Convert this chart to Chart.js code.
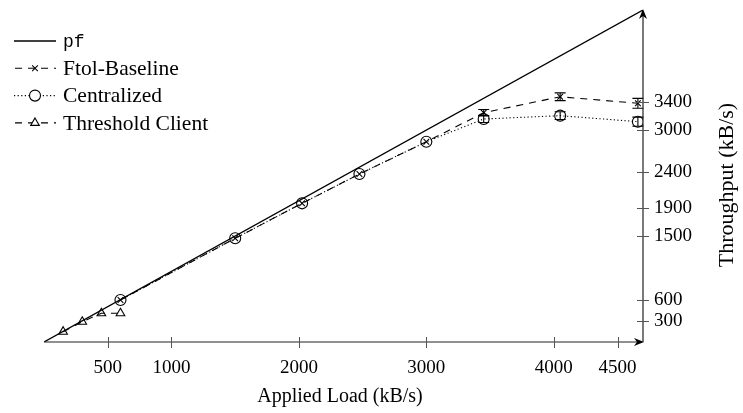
<!DOCTYPE html>
<html>
<head>
<meta charset="utf-8">
<script src="https://cdn.jsdelivr.net/npm/chart.js@4.4.0/dist/chart.umd.min.js"></script>
<style>
  html, body { margin: 0; padding: 0; background: #fff; }
  #wrap { width: 743px; height: 413px; }
</style>
</head>
<body>
<div id="wrap"><canvas id="myChart" width="743" height="413"></canvas></div>
<script>
// applied load (kB/s) on x, throughput (kB/s) on y
let pfX = [0, 4700]
let pfY = [0, 4700]

let loadX = [600, 1500, 2025, 2475, 3000, 3450, 4050, 4660]
let ftol = [595, 1468, 1963, 2378, 2835, 3246, 3472, 3379]
let ftolErr = [0, 0, 0, 0, 0, 45, 55, 70]
let central = [595, 1468, 1963, 2378, 2835, 3157, 3204, 3119]
let centralErr = [0, 0, 0, 0, 0, 50, 55, 65]

let threshX = [150, 300, 450, 600]
let thresh = [146, 287, 406, 406]

let xTicks = [500, 1000, 2000, 3000, 4000, 4500]
let yTicks = [300, 600, 1500, 1900, 2400, 3000, 3400]
let axisMax = 4700

const serif = '"Liberation Serif", "Times New Roman", serif'

function pts(xs, ys) {
    return xs.map((x, i) => ({x: x, y: ys[i]}))
}

// axes with arrows, crossing tick marks, error bars, legend and titles
const decor = {
    id: 'decor',
    afterDatasetsDraw(chart) {
        let ctx = chart.ctx
        let xs = chart.scales.x, ys = chart.scales.y
        ctx.save()
        ctx.strokeStyle = '#000'
        ctx.lineWidth = 1.1
        chart.data.datasets.forEach(ds => {
            if (!ds.errors) return
            ds.data.forEach((p, i) => {
                let e = ds.errors[i]
                if (!e) return
                let px = xs.getPixelForValue(p.x)
                let top = ys.getPixelForValue(p.y + e)
                let bot = ys.getPixelForValue(p.y - e)
                ctx.beginPath()
                ctx.moveTo(px, top); ctx.lineTo(px, bot)
                ctx.moveTo(px - 5.5, top); ctx.lineTo(px + 5.5, top)
                ctx.moveTo(px - 5.5, bot); ctx.lineTo(px + 5.5, bot)
                ctx.stroke()
            })
        })
        ctx.restore()
    },
    afterDraw(chart) {
        let ctx = chart.ctx
        let a = chart.chartArea
        let xs = chart.scales.x, ys = chart.scales.y
        ctx.save()
        ctx.strokeStyle = '#222'
        ctx.fillStyle = '#000'
        ctx.lineWidth = 1.2
        ctx.setLineDash([])

        // x axis
        ctx.beginPath()
        ctx.moveTo(a.left, a.bottom); ctx.lineTo(a.right - 2, a.bottom)
        ctx.stroke()
        ctx.beginPath()
        ctx.moveTo(a.right + 1, a.bottom)
        ctx.lineTo(a.right - 9, a.bottom - 4)
        ctx.lineTo(a.right - 6, a.bottom)
        ctx.lineTo(a.right - 9, a.bottom + 4)
        ctx.closePath(); ctx.fill()
        // y axis on the right
        ctx.beginPath()
        ctx.moveTo(a.right, a.bottom); ctx.lineTo(a.right, a.top + 2)
        ctx.stroke()
        ctx.beginPath()
        ctx.moveTo(a.right, a.top - 1)
        ctx.lineTo(a.right - 4, a.top + 9)
        ctx.lineTo(a.right, a.top + 6)
        ctx.lineTo(a.right + 4, a.top + 9)
        ctx.closePath(); ctx.fill()

        ctx.strokeStyle = '#555'
        ctx.lineWidth = 1
        ctx.beginPath()
        xTicks.forEach(v => {
            let px = Math.round(xs.getPixelForValue(v)) + 0.5
            ctx.moveTo(px, a.bottom - 5); ctx.lineTo(px, a.bottom + 6)
        })
        yTicks.forEach(v => {
            let py = Math.round(ys.getPixelForValue(v)) + 0.5
            ctx.moveTo(a.right - 6, py); ctx.lineTo(a.right + 6, py)
        })
        ctx.stroke()

        // axis titles
        ctx.fillStyle = '#000'
        ctx.font = '20px ' + serif
        ctx.textAlign = 'center'
        ctx.textBaseline = 'middle'
        ctx.fillText('Applied Load (kB/s)', 340, 397)
        ctx.save()
        ctx.translate(727, 185)
        ctx.rotate(-Math.PI / 2)
        ctx.font = '22px ' + serif
        ctx.fillText('Throughput (kB/s)', 0, 0)
        ctx.restore()

        // legend
        let rowY = 41
        chart.data.datasets.forEach(ds => {
            ctx.strokeStyle = ds.borderColor
            ctx.lineWidth = ds.borderWidth
            ctx.setLineDash(ds.borderDash || [])
            ctx.lineDashOffset = ds.borderDash && ds.borderDash[0] > 3 ? -1 : 0
            ctx.beginPath()
            ctx.moveTo(14, rowY); ctx.lineTo(56, rowY)
            ctx.stroke()
            ctx.setLineDash([])
            if (ds.pointRadius > 0) {
                ctx.fillStyle = '#fff'
                ctx.strokeStyle = ds.pointBorderColor
                ctx.lineWidth = ds.pointBorderWidth
                Chart.helpers.drawPoint(ctx, {pointStyle: ds.pointStyle, radius: ds.pointRadius, borderWidth: ds.pointBorderWidth, rotation: 0}, 35, rowY)
            }
            ctx.fillStyle = '#000'
            ctx.textAlign = 'left'
            ctx.font = ds.label === 'pf' ? '18px "Liberation Mono", monospace' : '21.5px ' + serif
            ctx.fillText(ds.label, 63, rowY + 1)
            rowY += 27.3
        })
        ctx.restore()
    }
}

var chart = new Chart('myChart', {
    type: 'line',
    data: {
        datasets: [
            {
                label: 'pf',
                data: pts(pfX, pfY),
                borderColor: '#000',
                borderWidth: 1.3,
                pointRadius: 0
            },
            {
                label: 'Ftol-Baseline',
                data: pts(loadX, ftol),
                errors: ftolErr,
                borderColor: '#000',
                borderWidth: 1.1,
                borderDash: [7, 6],
                pointStyle: 'crossRot',
                pointRadius: 4,
                pointBorderWidth: 1.1,
                pointBorderColor: '#000',
                pointBackgroundColor: 'rgba(0,0,0,0)'
            },
            {
                label: 'Centralized',
                data: pts(loadX, central),
                errors: centralErr,
                borderColor: '#000',
                borderWidth: 1.1,
                borderDash: [1.2, 2.4],
                pointStyle: 'circle',
                pointRadius: 5.5,
                pointBorderWidth: 1.1,
                pointBorderColor: '#000',
                pointBackgroundColor: 'rgba(0,0,0,0)'
            },
            {
                label: 'Threshold Client',
                data: pts(threshX, thresh),
                borderColor: '#000',
                borderWidth: 1.1,
                borderDash: [7, 6],
                pointStyle: 'triangle',
                pointRadius: 5,
                pointBorderWidth: 1.1,
                pointBorderColor: '#000',
                pointBackgroundColor: 'rgba(0,0,0,0)'
            }
        ]
    },
    options: {
        responsive: false,
        animation: false,
        layout: { padding: { left: 44, top: 10, right: 0, bottom: 0 } },
        plugins: { legend: { display: false }, tooltip: { enabled: false } },
        elements: { line: { tension: 0 } },
        scales: {
            x: {
                type: 'linear',
                min: 0,
                max: axisMax,
                grid: { display: false, drawTicks: false },
                border: { display: false },
                afterBuildTicks: s => { s.ticks = xTicks.map(v => ({value: v})) },
                afterFit: s => { s.height = 71; s.paddingLeft = 0; s.paddingRight = 0 },
                ticks: {
                    padding: 15,
                    color: '#000',
                    font: { family: serif, size: 19 },
                    maxRotation: 0,
                    callback: v => String(v)
                }
            },
            y: {
                type: 'linear',
                position: 'right',
                min: 0,
                max: axisMax,
                grid: { display: false, drawTicks: false },
                border: { display: false },
                afterBuildTicks: s => { s.ticks = yTicks.map(v => ({value: v})) },
                afterFit: s => { s.width = 100; s.paddingTop = 0; s.paddingBottom = 0 },
                ticks: {
                    padding: 11,
                    color: '#000',
                    font: { family: serif, size: 19 },
                    callback: v => String(v)
                }
            }
        }
    },
    plugins: [decor]
})
</script>
</body>
</html>
